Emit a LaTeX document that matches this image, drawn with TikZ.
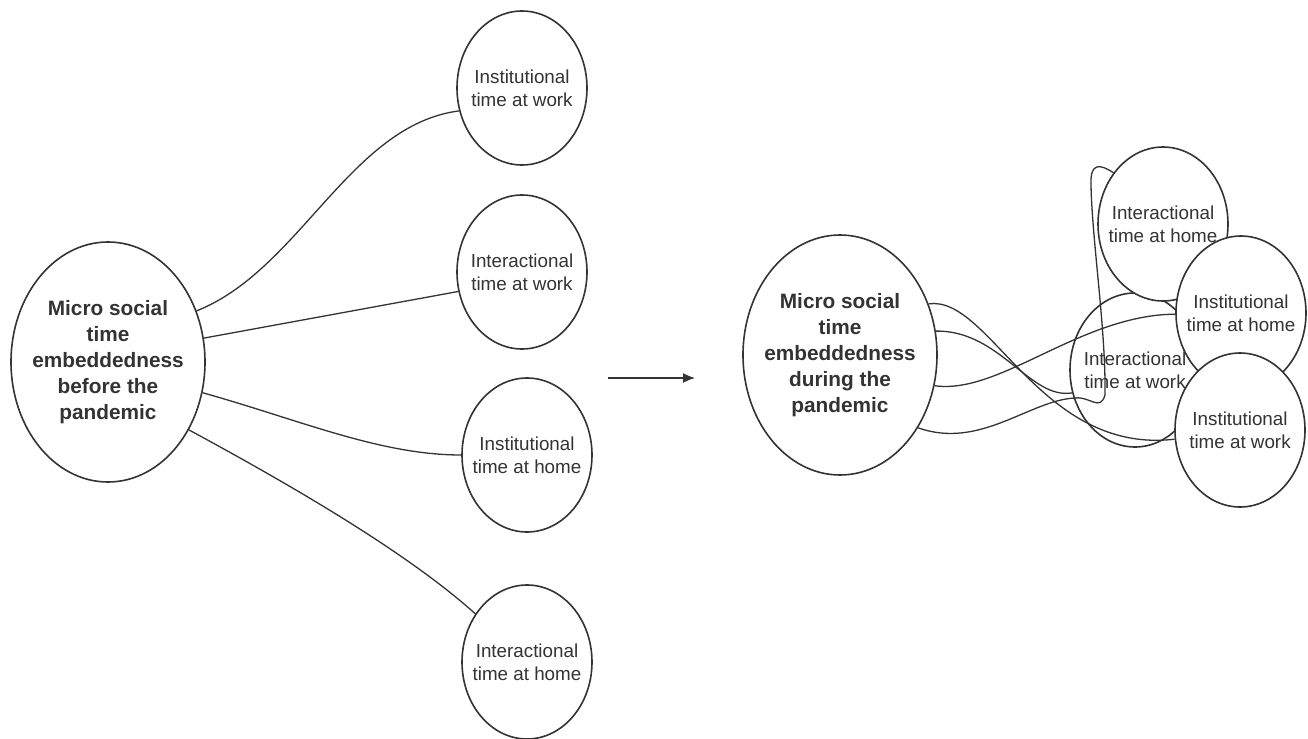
\documentclass[tikz,border=0pt]{standalone}
\usepackage{fontspec}
\setmainfont{Liberation Sans}
\usetikzlibrary{shapes.geometric,arrows.meta}
\begin{document}
\begin{tikzpicture}
      [x=0.5pt,y=-0.5pt,
      big/.style={ellipse,draw=black!80,line width=0.8pt,fill=white,text=black!80,
        minimum width=97pt,minimum height=120pt,inner sep=-10pt,align=center,
        font=\fontsize{10.4}{13}\selectfont\bfseries},
      small/.style={ellipse,draw=black!80,line width=0.8pt,fill=white,text=black!80,
        minimum width=65pt,minimum height=77pt,inner sep=-8pt,align=center,
        font=\fontsize{9.4}{11.5}\selectfont},
      link/.style={draw=black!80,line width=0.65pt}]
      \useasboundingbox (0,0) rectangle (1308,739);
      % before
      \node[big] (lbig) at (108,362) {Micro social\\time\\embeddedness\\before the\\pandemic};
      \node[small] (lia) at (522,88) {Institutional\\time at work};
      \node[small] (lwa) at (522,272) {Interactional\\time at work};
      \node[small] (lib) at (527,455) {Institutional\\time at home};
      \node[small] (lwb) at (527,662) {Interactional\\time at home};
      \draw[link] (lbig.30) .. controls (300,270) and (350,125) .. (lia.200);
      \draw[link] (lbig.14) -- (lwa.197);
      \draw[link] (lbig.-18) .. controls (300,420) and (380,455) .. (lib.180);
      \draw[link] (lbig.-40) .. controls (300,490) and (410,555) .. (lwb.137);
      % arrow
      \coordinate (arrs) at (608,378);
      \coordinate (arre) at (695,378);
      \draw[link,-{Latex[length=6pt,width=5pt]}] (arrs) -- (arre);
      % during
      \node[big] (rbig) at (840,355) {Micro social\\time\\embeddedness\\during the\\pandemic};
      \node[small] (rwa) at (1135,370) {Interactional\\time at work};
      \node[small] (rwb) at (1163,224) {Interactional\\time at home};
      \node[small] (rib) at (1241,313) {Institutional\\time at home};
      \node[small] (ria) at (1240,430) {Institutional\\time at work};
      \draw[link] (rbig.30) .. controls (990,295) and (1040,455) .. (ria.188);
      \draw[link] (rbig.14) .. controls (1000,330) and (1030,400) .. (rwa.200);
      \draw[link] (rbig.-18) .. controls (1000,395) and (1080,315) .. (rib.181);
      \draw[link] (rbig.-43) .. controls (980,450) and (1030,400) .. (1075,398)
        .. controls (1090,396) and (1100,412) .. (1105,395)
        .. controls (1106,330) and (1092,240) .. (1091,185)
        .. controls (1090,162) and (1100,164) .. (rwb.134);
\end{tikzpicture}
\end{document}
